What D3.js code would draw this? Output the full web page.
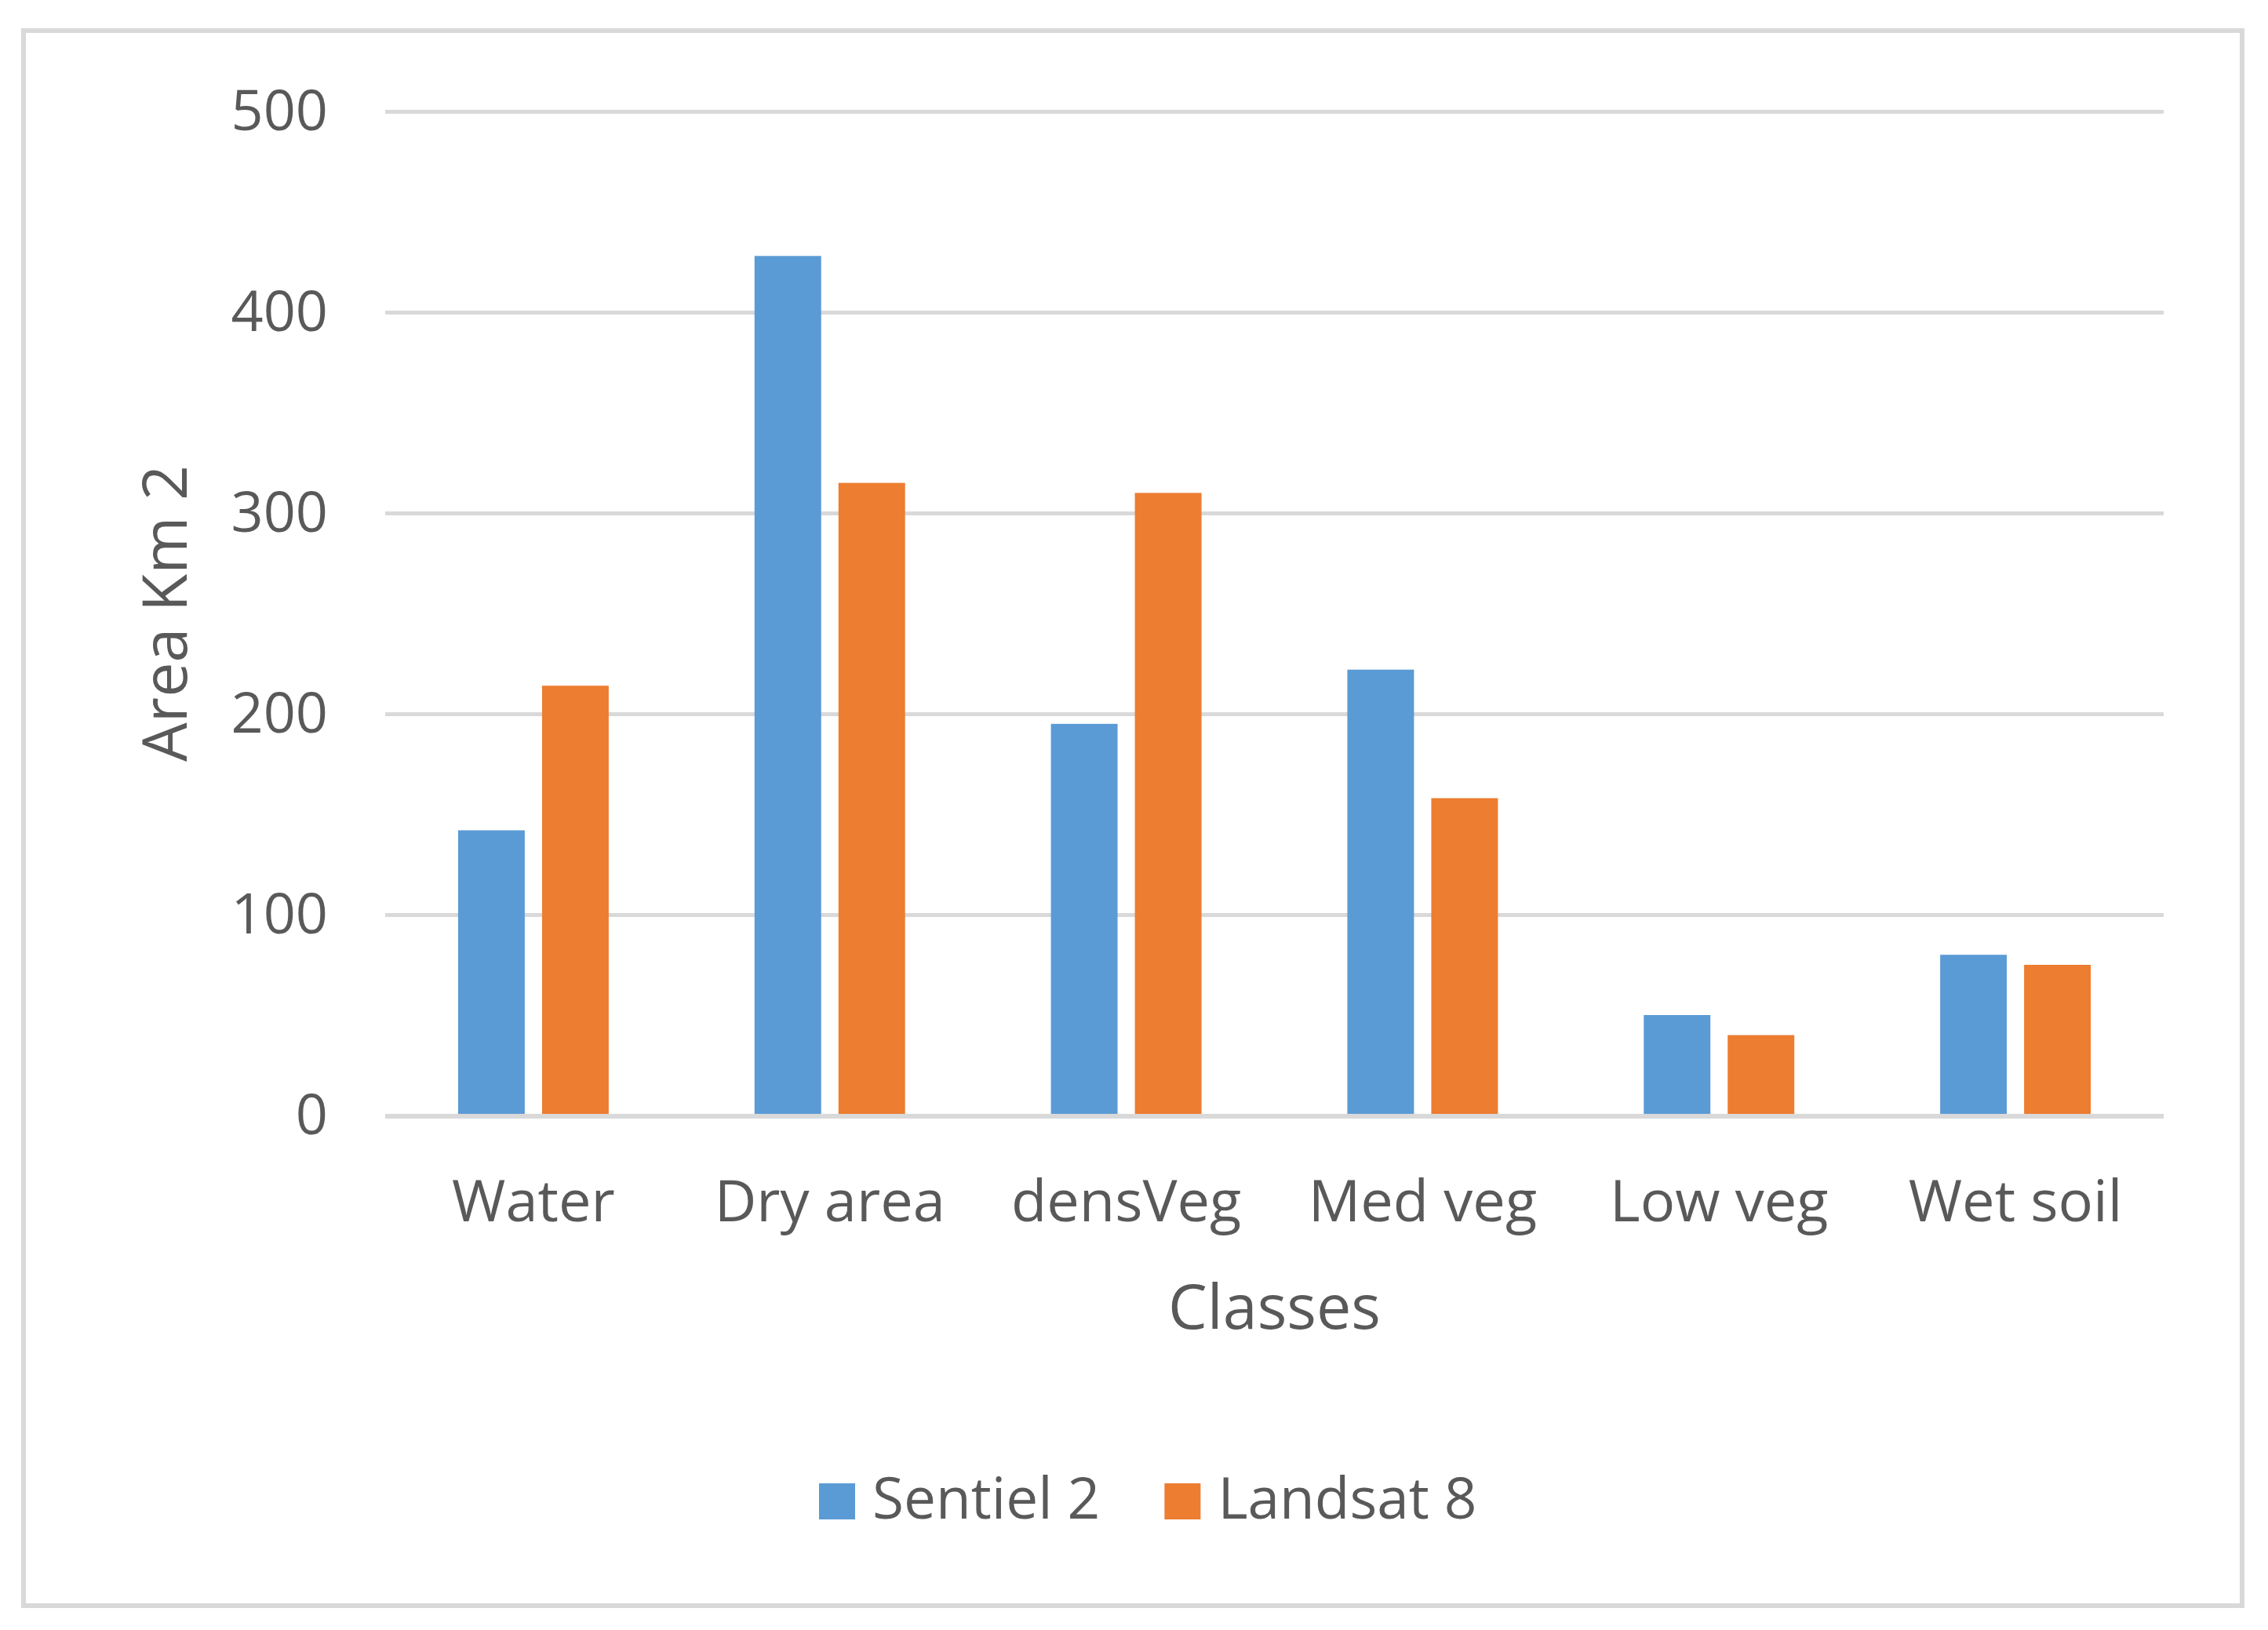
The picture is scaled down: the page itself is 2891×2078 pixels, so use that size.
<!DOCTYPE html>
<html>
<head>
<meta charset="utf-8">
<script src="https://cdn.jsdelivr.net/npm/d3@7"></script>
<style>
	body { margin: 0; background: #ffffff; }
	text { font-family: "Open Sans", "Noto Sans", sans-serif; fill: #595959; }
</style>
</head>
<body>
<svg id="chart"></svg>
<script>
var categories = ["Water", "Dry area", "densVeg", "Med veg", "Low veg", "Wet soil"];
var seriesNames = ["Sentiel 2", "Landsat 8"];
var sentinel2 = [142, 428, 195, 222, 50, 80];
var landsat8 = [214, 315, 310, 158, 40, 75];
var yTicks = [0, 100, 200, 300, 400, 500];
var seriesColors = ["#5B9BD5", "#ED7D31"];

drawGraph();

function drawGraph(){

	var width = 2891, height = 2078;
	var left = 491, right = 2758, top = 142, bottom = 1422;

	var svg = d3.select("#chart").attr("width", width).attr("height", height);

	// chart frame
	svg.append("rect").attr("x", 30).attr("y", 39).attr("width", 2828).attr("height", 2008)
		.attr("fill", "#ffffff").attr("stroke", "#d9d9d9").attr("stroke-width", 6);

	var x = d3.scaleBand().domain(categories).range([left, right]).paddingInner(0.492).paddingOuter(0.246);
	var x1 = d3.scaleBand().domain(seriesNames).range([0, x.bandwidth()]).paddingInner(0.206);
	var y = d3.scaleLinear().domain([0, 500]).range([bottom, top]);

	var yAxis = svg.append("g").attr("transform", "translate(" + left + ",0)")
		.call(d3.axisLeft(y).tickValues(yTicks).tickSize(-(right - left)).tickPadding(73));
	yAxis.select(".domain").remove();
	yAxis.selectAll(".tick line").attr("stroke", "#d9d9d9").attr("stroke-width", 5);
	yAxis.selectAll(".tick text").attr("font-size", 72).style("font-family", "'Open Sans'").attr("fill", "#595959");

	var rows = categories.map(function(c, i){
		return {cat: c, values: [{name: seriesNames[0], v: sentinel2[i]}, {name: seriesNames[1], v: landsat8[i]}]};
	});

	var groups = svg.selectAll("g.group").data(rows).enter().append("g")
		.attr("class", "group")
		.attr("transform", function(d){ return "translate(" + x(d.cat) + ",0)"; });

	groups.selectAll("rect").data(function(d){ return d.values; }).enter().append("rect")
		.attr("x", function(d){ return x1(d.name); })
		.attr("y", function(d){ return y(d.v); })
		.attr("width", x1.bandwidth())
		.attr("height", function(d){ return y(0) - y(d.v); })
		.attr("fill", function(d, i){ return seriesColors[i]; });

	// baseline over the bars' foot
	svg.append("line").attr("x1", left).attr("x2", right).attr("y1", y(0) + 1).attr("y2", y(0) + 1)
		.attr("stroke", "#d9d9d9").attr("stroke-width", 6);

	var xAxis = svg.append("g").attr("transform", "translate(0," + bottom + ")")
		.call(d3.axisBottom(x).tickSize(0).tickPadding(0));
	xAxis.select(".domain").remove();
	xAxis.selectAll(".tick text").attr("y", 135).attr("dy", 0).attr("font-size", 74)
		.style("font-family", "'Open Sans'").attr("fill", "#595959");

	svg.append("text").attr("x", (left + right) / 2).attr("y", 1694).attr("text-anchor", "middle")
		.attr("font-size", 79).text("Classes");

	svg.append("text").attr("transform", "translate(238," + (top + bottom) / 2 + ") rotate(-90)")
		.attr("text-anchor", "middle").attr("font-size", 79).text("Area Km 2");

	// legend
	var legend = svg.append("g");
	var lx = 1044;
	seriesNames.forEach(function(name, i){
		var item = legend.append("g").attr("transform", "translate(" + lx + ",0)");
		item.append("rect").attr("x", 0).attr("y", 1891).attr("width", 46).attr("height", 46).attr("fill", seriesColors[i]);
		var t = item.append("text").attr("x", 68).attr("y", 1936).attr("font-size", 73).text(name);
		lx += 68 + t.node().getComputedTextLength() + 82;
	});
}
</script>
</body>
</html>
